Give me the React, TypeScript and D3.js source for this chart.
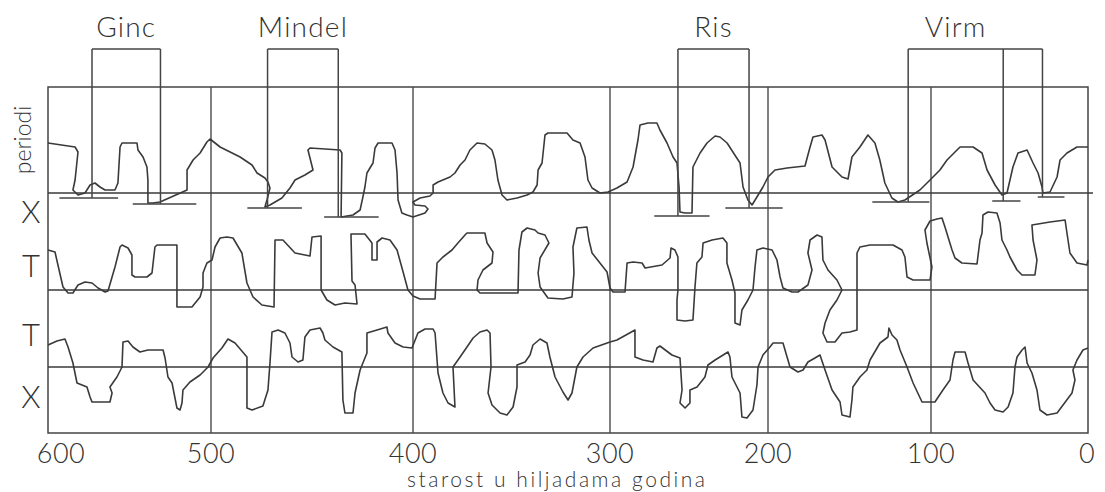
import React from 'react';
import * as d3 from 'd3';

// x axis: age in thousands of years (non-uniform drawing in the original)
const tickAges = [600, 500, 400, 300, 200, 100, 0];
const tickLabels = ['600', '500', '400', '300', '200', '100', '0'];

// Curve 1 (top, "periodi"): [age ka, relative value]
const curveTop: [number, number][] = [
  [600, 50], [583.4, 46], [581.6, 41], [583.4, 13], [584.7, 3], [581.6, -2], [577.3, 0], [574.2, 8], [571.2, 10],
  [568.1, 6], [565, 3], [558.9, 3], [557.1, 10], [555.8, 46], [554.6, 50], [545.4, 50], [544.8, 43], [541.7, 36],
  [539.3, 26], [538.7, 13], [538.7, -10], [535.6, -10], [531.3, -9], [514.7, 3], [514.7, 23], [511, 33], [506.7, 40],
  [502.5, 51], [500.6, 54], [495.5, 46], [485.6, 36], [479.7, 28], [477.2, 20], [473.3, 15], [471.8, 11], [470.8, 5],
  [472.3, -7], [473.3, -14], [470.8, -12], [464.9, -5], [460.9, 5], [458.4, 13], [453.5, 18], [449.5, 23], [452, 43],
  [451, 45], [436.1, 43], [435.2, 40], [435.6, -24], [429.7, -22], [426.2, -17], [424.8, -4], [423.8, 6], [422.8, 20],
  [419.8, 30], [418.8, 45], [417.3, 50], [410.4, 50], [408.9, 43], [407.9, 20], [407.4, -7], [405.5, -20], [403, -22],
  [400, -24], [393.9, -20], [392.4, -16], [393.9, -13], [399, -12], [400, -9], [396.4, -5], [391.4, -3], [389.8, 0],
  [389.8, 8], [387.3, 11], [381.2, 16], [378.7, 20], [376.1, 28], [373.6, 33], [371.1, 43], [367.5, 50], [363.5, 49],
  [359.9, 43], [358.4, 33], [356.9, 13], [354.8, -2], [352.3, -7], [347.2, -5], [342.1, -2], [339.1, 1], [337, 8],
  [336.5, 23], [334.5, 30], [333, 58], [331.5, 60], [321.8, 60], [318.8, 53], [315.2, 50], [312.7, 36], [311.2, 13],
  [309.1, 5], [305.1, 0], [301, 1], [295.6, 5], [289.2, 11], [285.4, 26], [282.3, 53], [281, 68], [276, 70],
  [270.3, 70], [268.4, 63], [263.9, 50], [260.1, 36], [257.6, 30], [256.3, 6], [255.7, -19], [252.5, -20], [248.1, -20],
  [247.5, 26], [243, 40], [238.6, 50], [233.5, 57], [230.4, 56], [225.9, 50], [217.7, 30], [215.8, 6], [212.7, -7],
  [210.1, -12], [207, -4], [203.2, 6], [200, 16], [195.7, 23], [188.3, 25], [177.3, 27], [174.2, 46], [172.4, 56],
  [166.9, 58], [165, 53], [160.7, 26], [154.6, 16], [150.9, 14], [148.5, 36], [143.6, 46], [138.7, 58], [134.4, 50],
  [131.4, 33], [128.3, 10], [124, -5], [120.3, -9], [116, -7], [106.8, 3], [100.6, 13], [94.3, 23], [89.8, 33],
  [81.5, 46], [73.2, 46], [67.5, 40], [64.3, 23], [59.2, 8], [54.8, -2], [51.6, 0], [47.8, 26], [44.6, 40],
  [38.8, 43], [35, 30], [31.8, 20], [29.3, 6], [28.7, 0], [24.2, 1], [19.7, 16], [17.8, 33], [13.4, 40], [7, 46],
  [0.6, 46], [0, 46],
];

// Curve 2 (middle, "T")
const curveMid: [number, number][] = [
  [600, 40], [595.7, 38], [593.9, 25], [590.8, 3], [587.7, -3], [584.7, -3], [581.6, 5], [577.3, 8], [573, 7],
  [569.3, 2], [565, -2], [563.2, -1], [560.7, 13], [558.9, 23], [555.8, 43], [554.6, 45], [550.9, 42], [548.5, 35],
  [548.5, 15], [546.6, 13], [539.3, 13], [536.2, 17], [534.4, 43], [533.1, 45], [520.9, 45], [520.9, -17], [511.7, -17],
  [506.7, -7], [504.9, 3], [504.9, 17], [502.5, 27], [499.5, 30], [498, 43], [495.5, 52], [492.1, 53], [489.1, 52],
  [484.7, 37], [482.2, 7], [479.2, -7], [474.8, -15], [468.8, -17], [468.3, 50], [464.4, 50], [458.4, 37], [451, 34],
  [450, 53], [445.5, 54], [445.5, 0], [442.6, -10], [438.6, -15], [433.7, -13], [427.7, -14], [428.7, 5], [430.2, 9],
  [430.7, 56], [423.8, 56], [420.3, 47], [420.3, 30], [417.8, 30], [417.8, 48], [415.3, 52], [411.4, 50], [407.9, 40],
  [404.9, 18], [402.5, 0], [400, -6], [396.4, -9], [388.8, -9], [387.8, 27], [384.8, 33], [380.2, 40], [377.2, 47],
  [373.6, 55], [372.6, 57], [363.5, 57], [362.4, 47], [359.4, 38], [359.9, 27], [364.5, 20], [367, 10], [367.5, 0],
  [366, -3], [355.8, -3], [346.7, -3], [346.2, 40], [344.7, 58], [342.1, 62], [338.1, 60], [336.5, 57], [333, 55],
  [331, 47], [335.5, 32], [336.5, 17], [335.5, 3], [331.5, -8], [323.9, -9], [319.3, -7], [318.3, 17], [318.8, 43],
  [316.8, 62], [311.7, 63], [310.7, 50], [309.1, 37], [305.1, 27], [301.5, 18], [300, 2], [298.1, -2], [290.5, -2],
  [289.2, 27], [285.4, 28], [279.7, 27], [277.8, 22], [267.1, 25], [262, 32], [261.4, 42], [258.9, 40], [257, 33],
  [257, 0], [257.6, -10], [257.6, -30], [252.5, -31], [247.5, -30], [246.2, 3], [245, 27], [241.8, 33], [241.1, 47],
  [235.4, 50], [228.5, 52], [226, 47], [226, 27], [222.8, 10], [220.9, -3], [220.9, -33], [217.7, -35], [216.5, -20],
  [212.7, -10], [209.5, 0], [208.2, 23], [207, 40], [203.2, 42], [197.5, 40], [194.5, 30], [192.6, 13], [190.8, 2],
  [185.3, -2], [181.6, -2], [175.5, 5], [173, 20], [175.5, 37], [174.2, 50], [169.9, 55], [166.9, 53], [166.3, 30],
  [163.2, 20], [157.7, 10], [154.6, 0], [157.7, -10], [162, -20], [165, -33], [166.3, -43], [163.8, -52], [158.9, -52],
  [154.6, -43], [149.7, -42], [145.4, -40], [145.4, 37], [143.6, 43], [137.4, 45], [123.3, 45], [117.8, 40], [116, 33],
  [114.7, 13], [111, 10], [100.6, 10], [99.4, 23], [102.5, 47], [103.7, 60], [100.6, 69], [96.2, 71], [93, 72],
  [91.1, 63], [86.6, 40], [84.7, 32], [80.3, 27], [70.7, 26], [68.8, 50], [67.5, 57], [66.9, 75], [63.7, 78], [58, 77],
  [56, 67], [54.8, 50], [51.6, 40], [49.7, 33], [45.2, 20], [42, 15], [33.8, 15], [32.5, 30], [35, 50], [35.7, 65],
  [24.2, 68], [14.6, 70], [13.4, 57], [11.5, 37], [7, 27], [0.6, 25], [0, 30],
];

// Curve 3 (bottom, "T / X")
const curveBot: [number, number][] = [
  [600, 22], [594.5, 26], [589.6, 28], [587.7, 20], [584.7, 4], [582.2, -16], [576.1, -20], [574.2, -30], [573, -35],
  [562, -35], [560.7, -26], [562, -20], [557.7, -10], [554.6, 0], [554, 25], [550.9, 26], [547.9, 20], [543.6, 15],
  [538.7, 17], [529.4, 17], [528.2, 9], [526.4, -10], [523.9, -16], [522.1, -31], [520.9, -41], [519, -43], [517.8, -36],
  [517.2, -23], [512.9, -15], [506.7, -8], [501.8, 0], [499, 9], [494.6, 19], [491.6, 28], [488.1, 24], [482.2, 10],
  [482.2, -41], [479.7, -43], [474.3, -39], [471.8, -23], [470.8, 4], [469.8, 35], [466.8, 37], [463.4, 34], [460.9, 24],
  [459.9, 10], [456.9, 5], [454.5, 7], [453.5, 30], [451, 37], [446, 39], [444.6, 34], [443.6, 27], [439.6, 20],
  [435.2, 15], [434.7, -33], [433.7, -46], [429.7, -46], [428.7, -26], [426.2, -3], [422.8, 14], [422.8, 34], [417.8, 37],
  [412.9, 40], [412.4, 34], [408.9, 24], [404.9, 20], [400.5, 19], [397.5, 34], [393.9, 38], [389.8, 38], [388.8, 34],
  [387.3, -6], [384.8, -26], [382.2, -36], [378.7, -40], [379.7, 0], [376.1, 10], [372.6, 20], [369.5, 29], [366, 35],
  [362.4, 37], [360.9, 34], [360.4, 0], [361.9, -26], [359.9, -38], [355.8, -46], [352.3, -48], [349.2, -40],
  [347.2, -20], [347.2, 2], [343.1, 5], [340.6, 12], [339.1, 22], [335.5, 28], [332, 24], [330.5, 10], [327.9, -10],
  [323.9, -25], [321.3, -33], [319.3, -26], [316.8, 0], [313.7, 10], [308.6, 19], [300, 25], [295.6, 27], [284.2, 37],
  [284.2, 10], [279.1, 7], [272.8, 5], [270.3, 19], [268.4, 21], [260.8, 12], [255.7, 9], [254.4, -23], [255.7, -36],
  [252.5, -41], [249.4, -36], [249.4, -23], [244.9, -20], [239.9, -10], [238, 2], [233.5, 7], [225.3, 15], [224.1, 10],
  [222.8, -10], [217.7, -26], [216.5, -50], [213.3, -51], [209.5, -43], [207, -18], [206.3, 0], [203.2, 12], [198.8, 20],
  [196.9, 24], [190.8, 24], [188.3, 10], [186.5, 0], [181.6, -5], [178.5, -3], [175.5, 5], [171.2, 9], [168.1, 12],
  [165, -3], [160.7, -23], [155.8, -35], [154.6, -48], [149.7, -50], [148.5, -33], [147.9, -20], [143.6, -10],
  [139.3, -3], [137.4, 7], [131.3, 24], [126.4, 30], [125.8, 39], [123.9, 32], [120.9, 27], [119, 17], [114.7, 0],
  [111, -16], [105.5, -35], [97.5, -35], [92.4, -23], [87.9, -13], [86, 7], [84.7, 15], [78.3, 15], [76.4, 4],
  [73.2, -13], [65.6, -26], [62.4, -36], [59.2, -43], [54.1, -45], [50.9, -40], [47.8, -26], [46.5, 0], [45.2, 10],
  [42, 17], [40.1, 20], [38.8, 4], [35.7, -6], [32.5, -23], [30.6, -43], [26.1, -48], [19.7, -46], [15.9, -38],
  [10.2, -26], [8.3, -13], [9.6, -3], [7, 7], [3.2, 17], [0, 19],
];

// Glacial periods: names, bracket edges (ka), and minimum bars [from ka, to ka, level]
const glacialNames = ['Ginc', 'Mindel', 'Ris', 'Virm'];
const glacialEdges: number[][] = [[573, 531], [472, 437], [257, 212], [114, 54, 29]];
const glacialBars: [number, number, number][][] = [
  [[593, 557, -5], [548, 509, -11]],
  [[482, 455, -15], [444, 417, -24]],
  [[272, 237, -23], [227, 191, -15]],
  [[136, 101, -9], [61, 43, -8], [32, 15, -4]],
];

const sideLabels = ['X', 'T', 'T', 'X'];
const xTitle = 'starost u hiljadama godina';
const yTitle = 'periodi';

export default function App() {
  const W = 1105, H = 492;
  const left = 48, right = 1088, top = 87, bottom = 433;
  const breaks = [48, 211, 413, 610, 768, 931, 1088];
  const x = d3.scaleLinear().domain(tickAges).range(breaks);
  const baselines = [193, 290, 367];
  const ys = baselines.map((b) => d3.scaleLinear().domain([-100, 100]).range([b + 100, b - 100]));
  const curves = [curveTop, curveMid, curveBot];
  const stroke = '#3a3a3a';
  const font = 'Lato, "DejaVu Sans", sans-serif';
  const bracketTop = 49;
  const yTop = ys[0];

  return (
    <svg width={W} height={H} style={{ position: 'absolute', left: 0, top: 0, background: '#fff' }}>
      <rect x={0} y={0} width={W} height={H} fill="#fff" />
      {/* frame */}
      <rect x={left} y={top} width={right - left} height={bottom - top} fill="none" stroke="#444" strokeWidth={1.5} />
      {tickAges.slice(1, -1).map((a) => (
        <line key={a} x1={x(a)} x2={x(a)} y1={top} y2={bottom} stroke="#4a4a4a" strokeWidth={1.4} />
      ))}
      {baselines.map((b, i) => (
        <line key={i} x1={left} x2={i === 0 ? right + 5 : right} y1={b} y2={b} stroke="#3a3a3a" strokeWidth={1.4} />
      ))}
      {/* curves */}
      {curves.map((c, i) => {
        const line = d3.line<[number, number]>().x((d) => x(d[0])).y((d) => ys[i](d[1])).curve(d3.curveLinear);
        return <path key={i} d={line(c) || ''} fill="none" stroke={stroke} strokeWidth={1.6} strokeLinejoin="round" />;
      })}
      {/* glacial brackets */}
      {glacialNames.map((name, gi) => {
        const edges = glacialEdges[gi];
        const bars = glacialBars[gi];
        const xs = edges.map((e) => x(e));
        const lx = (xs[0] + xs[1]) / 2;
        return (
          <g key={name}>
            <line x1={xs[0]} x2={xs[xs.length - 1]} y1={bracketTop} y2={bracketTop} stroke="#444" strokeWidth={1.5} />
            {edges.map((e, k) => (
              <line key={k} x1={x(e)} x2={x(e)} y1={bracketTop} y2={yTop(bars[k][2])} stroke="#444" strokeWidth={1.5} />
            ))}
            {bars.map((b, k) => (
              <line key={'b' + k} x1={x(b[0])} x2={x(b[1])} y1={yTop(b[2])} y2={yTop(b[2])} stroke="#444" strokeWidth={1.5} />
            ))}
            <text x={lx} y={37} textAnchor="middle" fontFamily={font} fontWeight={300} fontSize={28} letterSpacing={1.2} fill="#333">
              {name}
            </text>
          </g>
        );
      })}
      {/* x tick labels */}
      {tickAges.map((a, i) => {
        let tx = x(a);
        if (i === 0) tx += 13;
        if (i === tickAges.length - 1) tx -= 1;
        return (
          <text key={a} x={tx} y={463} textAnchor="middle" fontFamily={font} fontWeight={300} fontSize={27} letterSpacing={0.5} fill="#333">
            {tickLabels[i]}
          </text>
        );
      })}
      <text x={407} y={487} fontFamily={font} fontWeight={300} fontSize={21} fill="#333" textLength={298} lengthAdjust="spacing">
        {xTitle}
      </text>
      <text transform="translate(31,140) rotate(-90)" textAnchor="middle" fontFamily={font} fontWeight={300} fontSize={23} fill="#333">
        {yTitle}
      </text>
      {sideLabels.map((s, i) => {
        const cy = [212, 266, 335, 397][i];
        return (
          <text key={i} x={31} y={cy + 11} textAnchor="middle" fontFamily={font} fontWeight={300} fontSize={31} fill="#333">
            {s}
          </text>
        );
      })}
    </svg>
  );
}
